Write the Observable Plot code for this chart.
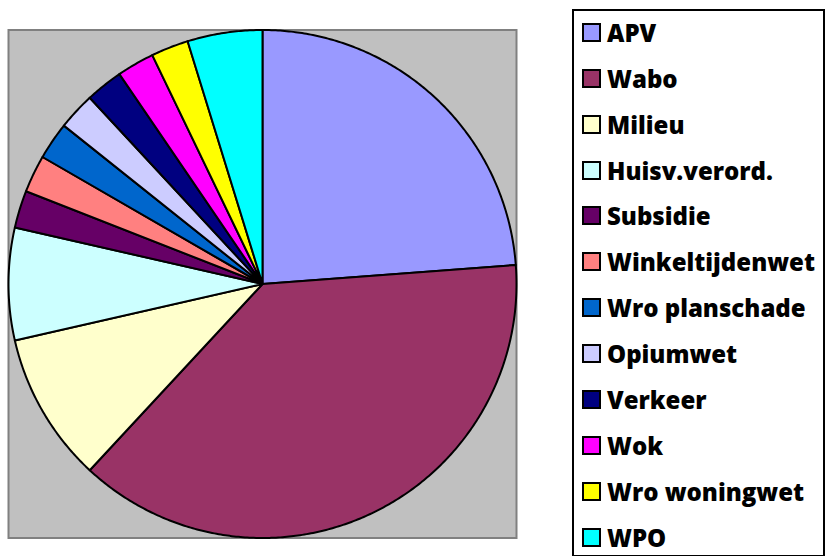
<!DOCTYPE html>
<html>
<head>
<meta charset="utf-8">
<script src="https://cdn.jsdelivr.net/npm/d3@7"></script>
<script src="https://cdn.jsdelivr.net/npm/@observablehq/plot@0.6"></script>
<style>
  html, body { margin: 0; padding: 0; background: #fff; }
  #wrap { position: relative; width: 827px; height: 556px; overflow: hidden; }
  #legend {
    position: absolute; left: 572px; top: 9px; width: 249px; height: 544px;
    border: 2px solid #000; background: #fff; box-sizing: content-box;
    font-family: "Open Sans", sans-serif; font-weight: 800; font-size: 24px; color: #000;
  }
  .item { position: absolute; left: 8px; height: 26px; display: flex; align-items: center; white-space: nowrap; }
  .sw { width: 15px; height: 15px; border: 2px solid #000; margin-right: 6px; box-sizing: content-box; }
</style>
</head>
<body>
<div id="wrap"></div>
<script>
// Data
const categories = ["APV", "Wabo", "Milieu", "Huisv.verord.", "Subsidie", "Winkeltijdenwet",
  "Wro planschade", "Opiumwet", "Verkeer", "Wok", "Wro woningwet", "WPO"];
const counts = [10, 16, 4, 3, 1, 1, 1, 1, 1, 1, 1, 2];
const colors = ["#9999FF", "#993366", "#FFFFCC", "#CCFFFF", "#660066", "#FF8080",
  "#0066CC", "#CCCCFF", "#000080", "#FF00FF", "#FFFF00", "#00FFFF"];

// Pie geometry derived from data via d3.pie (clockwise from 12 o'clock)
const arcs = d3.pie().sort(null).value((d, i) => counts[i])(categories);
const pts = [];
arcs.forEach((a, i) => {
  const name = categories[i];
  pts.push({name, x: 0, y: 0});
  const n = Math.max(2, Math.ceil((a.endAngle - a.startAngle) / (Math.PI / 360)));
  for (let k = 0; k <= n; k++) {
    const t = a.startAngle + (a.endAngle - a.startAngle) * k / n;
    pts.push({name, x: Math.sin(t), y: Math.cos(t)});
  }
});

const chart = Plot.plot({
  width: 827,
  height: 556,
  marginLeft: 8,
  marginRight: 311,
  marginTop: 29.5,
  marginBottom: 18.5,
  x: {domain: [-1, 1], axis: null},
  y: {domain: [-1, 1], axis: null},
  color: {domain: categories, range: colors},
  style: {background: "#fff", overflow: "visible"},
  marks: [
    Plot.frame({fill: "#C0C0C0", stroke: "#808080", strokeWidth: 2}),
    Plot.line(pts, {x: "x", y: "y", z: "name", fill: "name", stroke: "#000",
      strokeWidth: 2, strokeLinejoin: "round", curve: "linear-closed"})
  ]
});

const wrap = document.getElementById("wrap");
wrap.appendChild(chart);

// Legend
const legend = document.createElement("div");
legend.id = "legend";
const top0 = 21.3, step = 45.9;
categories.forEach((c, i) => {
  const it = document.createElement("div");
  it.className = "item";
  it.style.top = (top0 + i * step - 13) + "px";
  const sw = document.createElement("div");
  sw.className = "sw";
  sw.style.background = colors[i];
  const tx = document.createElement("span");
  tx.textContent = c;
  it.appendChild(sw);
  it.appendChild(tx);
  legend.appendChild(it);
});
wrap.appendChild(legend);
</script>
</body>
</html>
